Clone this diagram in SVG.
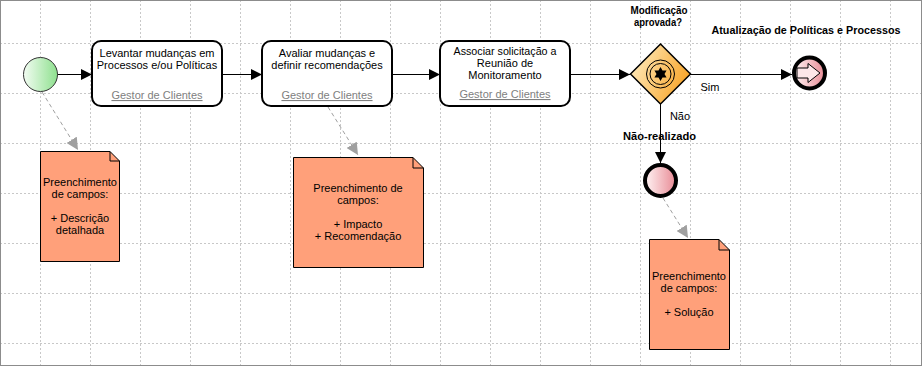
<svg xmlns="http://www.w3.org/2000/svg" width="923" height="367" viewBox="0 0 923 367">
<style>
.grid{stroke:#c8c8c8;stroke-width:1;stroke-dasharray:2 2;fill:none}
.task{fill:#fff;stroke:#000;stroke-width:2}
.t{font-family:"Liberation Sans",Arial,sans-serif;font-size:11px;fill:#000;text-anchor:middle}
.role{font-family:"Liberation Sans",Arial,sans-serif;font-size:11px;fill:#808080;text-anchor:middle;text-decoration:underline}
.b{font-family:"Liberation Sans",Arial,sans-serif;font-size:11.5px;font-weight:bold;fill:#000;text-anchor:middle}
.flow{stroke:#000;stroke-width:1;fill:none}
.assoc{stroke:#a0a0a0;stroke-width:1;stroke-dasharray:4 3;fill:none}
.note{fill:#ffa07a;stroke:#000;stroke-width:1}
.end{stroke:#000;stroke-width:4}
</style>
<defs>
<marker id="arr" viewBox="0 0 10 10" refX="10" refY="5" markerUnits="userSpaceOnUse" markerWidth="11" markerHeight="12" orient="auto">
<path d="M0,0 L10,5 L0,10 z" fill="#000"/>
</marker>
<marker id="garr" viewBox="0 0 10 10" refX="10" refY="5" markerUnits="userSpaceOnUse" markerWidth="12" markerHeight="12" orient="auto">
<path d="M0,0 L10,5 L0,10 z" fill="#a0a0a0"/>
</marker>
<linearGradient id="gStart" x1="0" y1="0" x2="1" y2="0">
<stop offset="0" stop-color="#f2fcf2"/>
<stop offset="1" stop-color="#8ee08e"/>
</linearGradient>
<linearGradient id="gGate" x1="0" y1="0" x2="1" y2="0.4">
<stop offset="0" stop-color="#fff2cc"/>
<stop offset="1" stop-color="#f8a830"/>
</linearGradient>
<linearGradient id="gEnd" x1="0" y1="0" x2="1" y2="0">
<stop offset="0" stop-color="#fff4f4"/>
<stop offset="1" stop-color="#e88a95"/>
</linearGradient>
</defs>
<rect x="0" y="0" width="923" height="367" fill="#fff"/>
<g id="grid">
<path class="grid" d="M40.5,0V366M90.5,0V366M140.5,0V366M190.5,0V366M240.5,0V366M290.5,0V366M340.5,0V366M390.5,0V366M440.5,0V366M490.5,0V366M540.5,0V366M590.5,0V366M640.5,0V366M690.5,0V366M740.5,0V366M790.5,0V366M840.5,0V366M890.5,0V366"/>
<path class="grid" d="M0,43.5H922M0,93.5H922M0,143.5H922M0,193.5H922M0,243.5H922M0,293.5H922M0,343.5H922"/>
</g>
<rect x="0.5" y="0.5" width="921" height="365" fill="none" stroke="#8c8c8c"/>
<g id="connectors">
<path class="flow" d="M57,74.5H92" marker-end="url(#arr)"/>
<path class="flow" d="M222,74.5H262" marker-end="url(#arr)"/>
<path class="flow" d="M392,74.5H440" marker-end="url(#arr)"/>
<path class="flow" d="M570,74.5H630" marker-end="url(#arr)"/>
<path class="flow" d="M690,74.5H792" marker-end="url(#arr)"/>
<path class="flow" d="M660.5,104V163" marker-end="url(#arr)"/>
<path class="assoc" d="M42,92L78,150" marker-end="url(#garr)"/>
<path class="assoc" d="M328,107L358,155" marker-end="url(#garr)"/>
<path class="assoc" d="M663,198L688,238" marker-end="url(#garr)"/>
<text class="t" x="710" y="91">Sim</text>
<text class="t" x="680" y="120">Não</text>
</g>
<g id="start">
<circle cx="40.5" cy="74.5" r="17" fill="url(#gStart)" stroke="#333" stroke-width="1"/>
</g>
<g id="task1">
<rect class="task" x="92" y="41" width="130" height="65" rx="9"/>
<text class="t" x="157" y="57">Levantar mudanças em</text>
<text class="t" x="157" y="69">Processos e/ou Políticas</text>
<text class="role" x="157" y="99">Gestor de Clientes</text>
</g>
<g id="task2">
<rect class="task" x="262" y="41" width="130" height="65" rx="9"/>
<text class="t" x="327" y="57">Avaliar mudanças e</text>
<text class="t" x="327" y="69">definir recomendações</text>
<text class="role" x="327" y="99">Gestor de Clientes</text>
</g>
<g id="task3">
<rect class="task" x="440" y="41" width="130" height="65" rx="9"/>
<text class="t" x="505" y="55" textLength="103" lengthAdjust="spacingAndGlyphs">Associar solicitação a</text>
<text class="t" x="505" y="67">Reunião de</text>
<text class="t" x="505" y="79">Monitoramento</text>
<text class="role" x="505" y="98">Gestor de Clientes</text>
</g>
<g id="gateway">
<path d="M660.5,44L690.5,74L660.5,104L630.5,74Z" fill="url(#gGate)" stroke="#000" stroke-width="1.5"/>
<circle cx="660.5" cy="74" r="14" fill="none" stroke="#000" stroke-width="1"/>
<circle cx="660.5" cy="74" r="10.5" fill="none" stroke="#000" stroke-width="1"/>
<polygon points="660.5,67 662.5,70.54 666.56,70.5 664.5,74 666.56,77.5 662.5,77.46 660.5,81 658.5,77.46 654.44,77.5 656.5,74 654.44,70.5 658.5,70.54" fill="#000"/>
<text class="b" x="659" y="14" textLength="57" lengthAdjust="spacingAndGlyphs">Modificação</text>
<text class="b" x="658" y="26" textLength="48" lengthAdjust="spacingAndGlyphs">aprovada?</text>
</g>
<g id="end1">
<circle class="end" cx="809.5" cy="73" r="15.5" fill="url(#gEnd)"/>
<polygon points="797,68 808,68 808,63.5 820,73 808,82.5 808,78 797,78" fill="#fde6e8" stroke="#000" stroke-width="1"/>
<text class="b" x="806" y="34" textLength="189" lengthAdjust="spacingAndGlyphs">Atualização de Políticas e Processos</text>
</g>
<g id="end2">
<circle class="end" cx="660.5" cy="180.5" r="15.5" fill="url(#gEnd)"/>
<text class="b" x="659.5" y="140" textLength="73" lengthAdjust="spacingAndGlyphs">Não-realizado</text>
</g>
<g id="note1">
<path class="note" d="M40.5,151.5H110L119.5,161V261.5H40.5Z"/>
<path d="M110,151.5V161H119.5" fill="none" stroke="#000"/>
<text class="t" x="80" y="186">Preenchimento</text>
<text class="t" x="80" y="198">de campos:</text>
<text class="t" x="80" y="222">+ Descrição</text>
<text class="t" x="80" y="234">detalhada</text>
</g>
<g id="note2">
<path class="note" d="M293.5,157.5H413L423.5,168V267.5H293.5Z"/>
<path d="M413,157.5V168H423.5" fill="none" stroke="#000"/>
<text class="t" x="358" y="192">Preenchimento de</text>
<text class="t" x="358" y="204">campos:</text>
<text class="t" x="358" y="228">+ Impacto</text>
<text class="t" x="358" y="240">+ Recomendação</text>
</g>
<g id="note3">
<path class="note" d="M649.5,239.5H719L729.5,250V349.5H649.5Z"/>
<path d="M719,239.5V250H729.5" fill="none" stroke="#000"/>
<text class="t" x="689" y="280">Preenchimento</text>
<text class="t" x="689" y="292">de campos:</text>
<text class="t" x="689" y="316">+ Solução</text>
</g>
</svg>
